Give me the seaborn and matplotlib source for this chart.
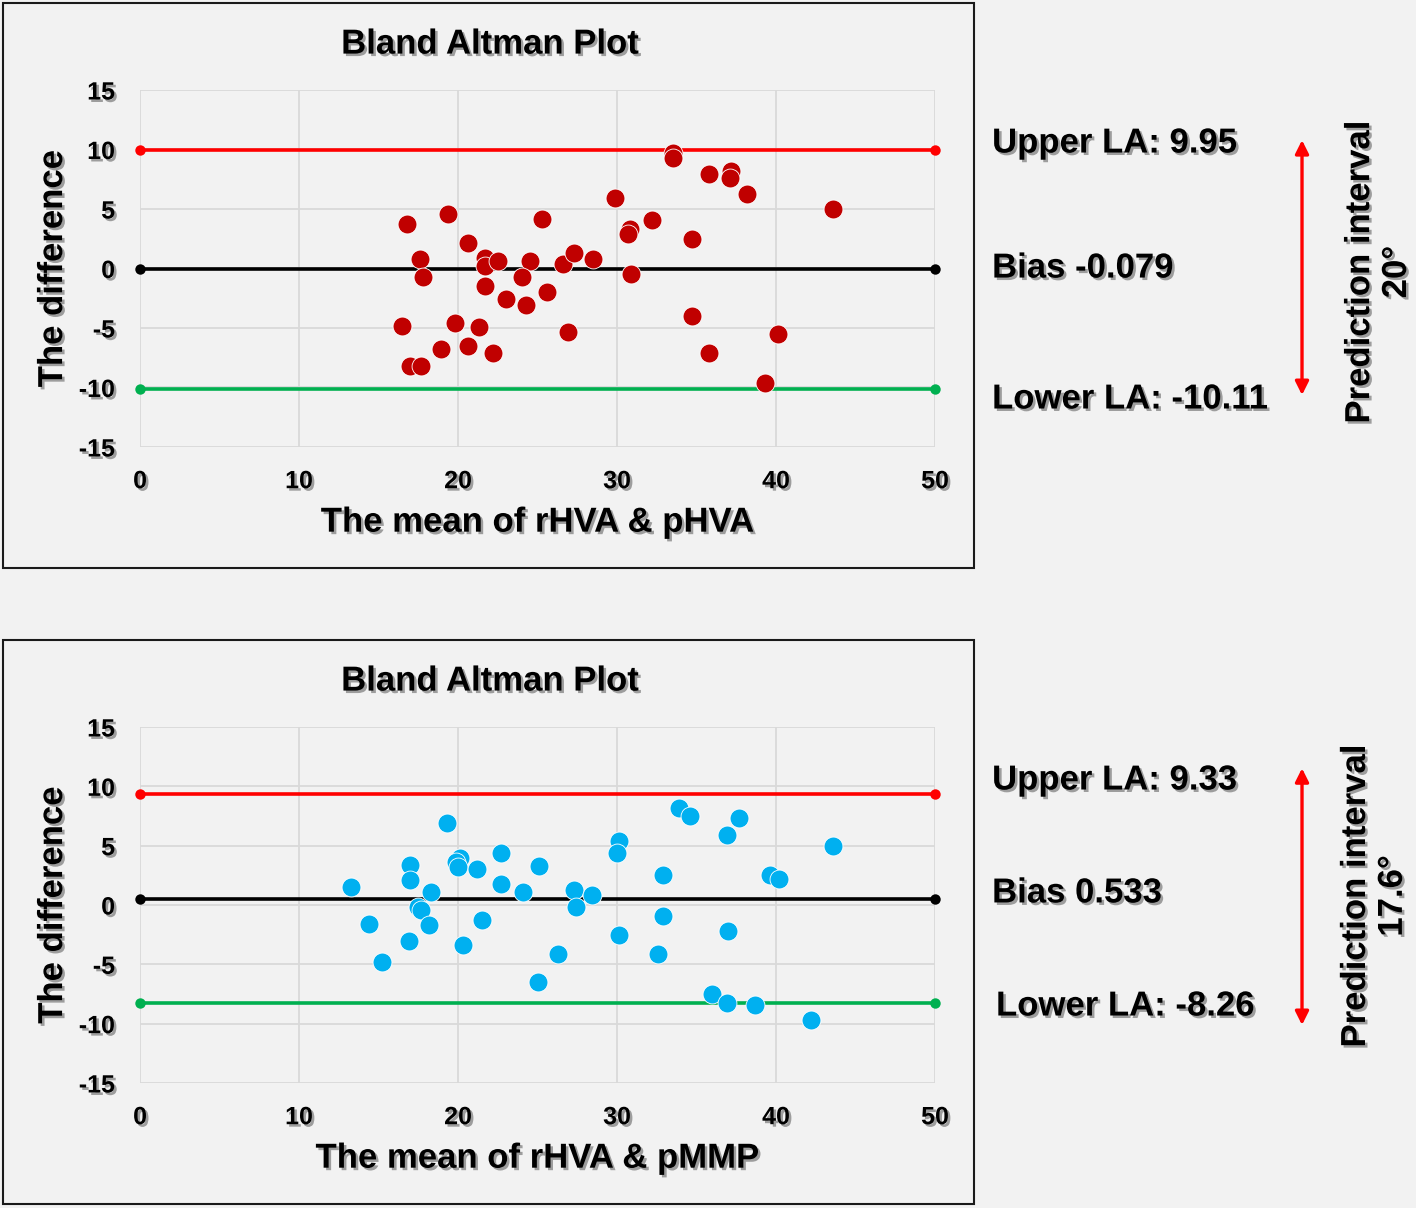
import matplotlib
matplotlib.use("Agg")
import matplotlib.pyplot as plt
import matplotlib.patheffects as pe
from matplotlib.patches import Rectangle, FancyArrowPatch
import seaborn as sns
import pandas as pd

# top panel: rHVA vs pHVA
top_mean = [16.8, 19.4, 17.6, 17.8, 20.6, 21.7, 21.7, 22.5, 25.3, 24.5, 24.0, 21.7,
            23.0, 24.3, 25.6, 26.6, 27.3, 28.5, 29.9, 30.8, 30.7, 32.2, 30.9, 33.5,
            33.5, 35.8, 37.2, 37.1, 38.2, 43.6, 34.7, 34.7, 35.8, 40.1, 39.3, 26.9,
            16.5, 19.8, 21.3, 18.9, 20.6, 22.2, 17.0, 17.7]
top_diff = [3.7, 4.6, 0.8, -0.7, 2.1, 0.9, 0.2, 0.6, 4.2, 0.6, -0.7, -1.5,
            -2.6, -3.1, -2.0, 0.4, 1.3, 0.8, 5.9, 3.3, 2.9, 4.1, -0.5, 9.7,
            9.3, 7.9, 8.2, 7.6, 6.3, 5.0, 2.5, -4.0, -7.1, -5.5, -9.6, -5.3,
            -4.8, -4.6, -4.9, -6.8, -6.5, -7.1, -8.2, -8.2]
top_limits = {"upper": 9.95, "bias": -0.079, "lower": -10.11}
top_interval = "20°"

# bottom panel: rHVA vs pMMP
bot_mean = [13.3, 14.4, 15.2, 17.0, 17.0, 16.9, 18.3, 17.5, 17.7, 18.2, 19.3, 20.1,
            19.9, 20.0, 21.2, 20.3, 21.5, 22.7, 22.7, 24.1, 25.1, 25.0, 26.3, 27.3,
            27.4, 28.4, 30.1, 30.0, 30.1, 32.9, 32.9, 32.6, 33.9, 34.6, 36.9, 37.7,
            37.0, 36.0, 36.9, 38.7, 39.6, 40.2, 42.2, 43.6]
bot_diff = [1.5, -1.6, -4.8, 3.4, 2.1, -3.0, 1.1, -0.2, -0.4, -1.7, 6.9, 4.0,
            3.6, 3.2, 3.0, -3.4, -1.3, 4.4, 1.8, 1.1, 3.3, -6.5, -4.1, 1.3,
            -0.2, 0.8, 5.4, 4.4, -2.5, 2.5, -0.9, -4.1, 8.2, 7.5, 5.9, 7.3,
            -2.2, -7.5, -8.3, -8.4, 2.5, 2.2, -9.7, 5.0]
bot_limits = {"upper": 9.33, "bias": 0.533, "lower": -8.26}
bot_interval = "17.6°"

x_range = [0, 50]
bg = "#f2f2f2"

sns.set_theme(style="whitegrid")
plt.rcParams["font.family"] = ["Liberation Sans", "DejaVu Sans"]
plt.rcParams["font.weight"] = "bold"
plt.rcParams["axes.unicode_minus"] = False

shadow = [pe.withSimplePatchShadow(offset=(1.8, -1.8), shadow_rgbFace="#000000", alpha=0.35)]

fig = plt.figure(figsize=(14.16, 12.08), dpi=100, facecolor=bg)


def bland_altman(ax, mean, diff, limits, color, xlabel):
    ax.set_facecolor(bg)
    lines = [("upper", "#ff0000"), ("bias", "#000000"), ("lower", "#00b050")]
    for key, c in lines:
        d = pd.DataFrame({"x": x_range, "y": [limits[key]] * 2})
        sns.lineplot(data=d, x="x", y="y", ax=ax, color=c, lw=2.6, marker="o",
                     markersize=7.5, markeredgewidth=0, clip_on=False, zorder=3)
    sns.scatterplot(x=mean, y=diff, ax=ax, color=color, s=185, edgecolor="white",
                    linewidth=0.6, zorder=4, clip_on=False)
    ax.set_xlim(0, 50)
    ax.set_ylim(-15, 15)
    ax.set_xticks(range(0, 51, 10))
    ax.set_yticks(range(-15, 16, 5))
    ax.grid(True, color="#d9d9d9", lw=1.3)
    for s in ax.spines.values():
        s.set_visible(False)
    ax.tick_params(length=0, labelsize=18)
    ax.tick_params(axis="x", pad=16)
    ax.tick_params(axis="y", pad=18)
    for t in ax.get_xticklabels() + ax.get_yticklabels():
        t.set_fontweight("bold")
        t.set_color("black")
        t.set_path_effects(shadow)
    ax.set_xlabel(xlabel, fontsize=25, fontweight="bold", color="black", labelpad=9,
                  path_effects=shadow)
    ax.set_ylabel("The difference", fontsize=25, fontweight="bold", color="black",
                  labelpad=7, path_effects=shadow)


ax1 = fig.add_axes([0.0989, 0.63, 0.5614, 0.2955])
bland_altman(ax1, top_mean, top_diff, top_limits, "#c00000", "The mean of rHVA & pHVA")
ax2 = fig.add_axes([0.0989, 0.1035, 0.5614, 0.2947])
bland_altman(ax2, bot_mean, bot_diff, bot_limits, "#00b0f0", "The mean of rHVA & pMMP")

# frames around each chart
for y0, h in [(0.5298, 0.4677), (0.0033, 0.4669)]:
    fig.patches.append(Rectangle((0.0021, y0), 0.6857, h, transform=fig.transFigure,
                                 fill=False, edgecolor="#1a1a1a", lw=1.5))

txt = dict(fontsize=25, fontweight="bold", color="black", path_effects=shadow)

for ty in [0.9635, 0.4362]:
    fig.text(0.346, ty, "Bland Altman Plot", ha="center", va="center", **txt)

panels = [
    (top_limits, top_interval, [0.8816, 0.7781, 0.6697], 0.7006, (0.884, 0.673), (0.9732, 0.7748)),
    (bot_limits, bot_interval, [0.3543, 0.2608, 0.1672], 0.7034, (0.364, 0.1515), (0.9703, 0.2583)),
]
for lim, interval, ys, lx, (a0, a1), (px, py) in panels:
    fig.text(0.7006, ys[0], f"Upper LA: {lim['upper']:.2f}", ha="left", va="center", **txt)
    fig.text(0.7006, ys[1], f"Bias {lim['bias']:g}", ha="left", va="center", **txt)
    fig.text(lx, ys[2], f"Lower LA: {lim['lower']:.2f}", ha="left", va="center", **txt)
    fig.patches.append(FancyArrowPatch((0.9195, a1), (0.9195, a0), transform=fig.transFigure,
                                       arrowstyle="<|-|>", mutation_scale=20, color="#ff0000",
                                       lw=2.4, shrinkA=0, shrinkB=0))
    fig.text(px, py, "Prediction interval\n" + interval, ha="center", va="center",
             rotation=90, multialignment="center", linespacing=1.15, **txt)

fig.savefig("out.png", dpi=100, facecolor=bg)
